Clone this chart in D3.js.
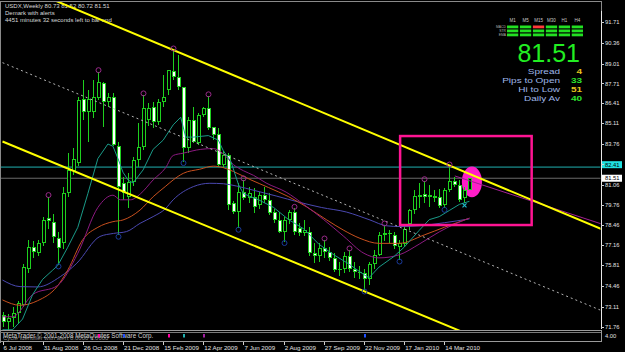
<!DOCTYPE html>
<html lang="en">
<head>
<meta charset="UTF-8">
<title>USDX Weekly</title>
<script src="https://d3js.org/d3.v7.min.js"></script>
<style>
  html, body { margin: 0; padding: 0; background: #000; }
  svg { display: block; }
  text { font-family: "Liberation Sans", Arial, sans-serif; }
</style>
</head>
<body>
<svg width="625" height="352"></svg>
<script>
// weekly bars, bar 0 = 6 Jul 2008
const opens = [72.57,72.13,72.40,72.70,73.20,75.60,77.04,76.60,77.25,78.90,78.67,77.58,77.25,80.52,82.00,82.50,86.67,85.86,85.86,86.74,
  87.72,86.52,86.85,83.60,81.20,80.31,81.29,82.70,83.58,85.30,86.20,85.20,86.50,87.28,88.52,88.15,87.50,83.47,85.32,83.80,
  85.65,86.08,84.84,84.40,82.38,83.03,79.87,79.32,80.63,80.20,80.31,79.76,80.41,80.09,79.32,78.78,78.02,78.78,79.32,78.24,
  77.95,78.02,76.60,76.40,76.95,76.70,76.30,75.50,75.60,76.40,75.60,75.40,75.30,74.90,75.90,76.50,77.80,77.90,77.80,77.00,
  77.20,78.50,79.43,80.30,80.50,80.30,80.35,80.30,79.76,80.74,81.35,81.07,80.20,80.73];
const highs = [72.79,72.60,73.10,73.45,75.90,77.50,77.40,77.50,79.00,80.31,79.20,78.00,80.95,83.14,83.50,86.85,87.94,87.28,87.94,88.48,
  87.83,87.06,87.06,83.90,81.60,81.83,82.90,85.10,86.96,86.40,86.50,86.70,88.26,88.60,89.90,89.60,87.50,85.54,86.19,85.76,
  86.19,86.90,84.89,84.78,83.30,83.14,80.00,81.20,81.40,80.96,80.85,80.60,80.96,80.52,79.50,79.30,79.00,79.40,79.54,78.60,
  78.78,78.30,77.25,77.30,77.47,77.00,76.60,76.00,76.70,76.82,76.00,75.80,75.60,76.00,76.80,78.00,78.45,78.10,78.00,77.50,
  78.50,79.50,80.74,81.18,81.35,81.07,80.74,80.80,80.85,82.31,81.60,81.40,80.96,81.52];
const lows = [71.76,71.50,71.75,72.00,73.10,75.30,76.30,76.40,77.10,78.20,77.30,75.84,76.90,80.31,81.70,82.30,85.33,83.90,85.43,86.63,
  84.89,86.19,83.60,77.78,80.10,79.55,81.00,82.27,83.36,84.90,84.80,85.00,86.20,86.96,87.94,87.28,82.60,83.14,83.80,83.70,
  85.54,84.67,84.00,82.27,82.20,79.43,79.20,78.24,80.09,79.87,79.22,79.50,79.87,79.10,78.60,77.90,77.37,78.50,77.80,77.70,
  77.70,76.40,75.95,76.00,76.30,76.10,75.40,75.10,75.30,75.40,75.00,74.90,74.20,74.50,75.60,76.40,77.40,77.30,76.90,76.16,
  77.00,78.13,79.20,79.54,79.90,79.65,79.98,79.55,79.54,80.63,80.96,79.98,79.87,80.72];
const closes = [72.13,72.40,72.70,73.33,75.73,77.00,76.71,77.25,78.78,78.70,77.69,76.93,80.52,82.05,82.80,86.63,85.86,86.70,86.85,87.83,
  86.52,86.85,83.70,80.96,80.52,81.29,82.70,83.58,86.08,86.10,85.20,86.50,86.85,88.59,88.15,87.50,83.47,85.32,83.90,85.65,
  86.08,84.78,84.34,82.38,83.03,79.76,79.32,80.63,80.20,80.52,79.65,80.41,80.09,79.22,78.78,78.02,78.78,79.32,78.00,77.95,
  78.10,76.60,76.40,76.95,76.70,76.30,75.50,75.60,76.40,75.60,75.40,75.30,74.90,75.90,76.50,77.80,77.90,77.85,77.10,77.30,
  78.20,79.45,80.35,80.40,80.30,80.40,80.20,79.70,80.74,81.35,81.07,80.09,80.75,81.51];

const dateBars = [0, 8, 16, 24, 32, 40, 48, 56, 64, 72, 80, 88];
const dateLabels = ["6 Jul 2008","31 Aug 2008","26 Oct 2008","21 Dec 2008","15 Feb 2009","12 Apr 2009",
  "7 Jun 2009","2 Aug 2009","27 Sep 2009","22 Nov 2009","17 Jan 2010","14 Mar 2010"];
const priceTicks = ["91.71","90.36","89.01","87.71","86.41","85.11","83.76","82.41","81.06",
  "79.76","78.46","77.16","75.81","74.46","73.11","71.76"];

// moving averages: [bar, price]
const maTeal = [[0,71.6],[2,71.6],[4,72.3],[6,73.9],[8,74.9],[10,75.5],[11,75.8],[13,77.0],[15,78.3],[17,80.5],
  [19,82.8],[21,83.75],[22,83.6],[23,82.8],[24,81.9],[25,81.4],[26,81.2],[28,82.05],[30,83.4],[32,84.0],[34,85.0],
  [35.5,85.5],[36.5,84.2],[38,84.2],[41,84.3],[43,84.0],[44,83.3],[45.5,82.6],[47,81.1],[48,80.5],[51,80.1],
  [54,79.6],[57,78.8],[60,78.2],[63,77.2],[66,76.5],[69,75.9],[72,75.2],[73,75.0],[75,75.7],[78,76.4],[80,77.0],
  [83,78.1],[85,78.8],[87,79.0],[89,79.4],[91,79.8],[93,80.0]];
const maPurple = [[0,72.45],[2,72.45],[6,73.9],[11,74.5],[15,76.6],[19,79.6],[22,80.4],[23.5,80.1],[25.5,80.1],
  [27.5,80.5],[30,81.4],[32.5,82.2],[34,83.0],[36,83.15],[39.5,83.4],[42,83.45],[44,83.1],[46,82.4],[48,82.0],
  [50,81.7],[52.5,81.2],[56.5,80.6],[60,79.8],[64,78.8],[68,77.7],[72,76.6],[75,76.3],[79,76.5],[83,77.2],
  [87,78.0],[90,78.5],[93,78.9]];
const maOrange = [[0,73.55],[3.5,73.2],[7,73.5],[10.8,74.4],[13,75.5],[16,77.5],[19,78.3],[22,78.67],[24,78.78],
  [27.4,79.43],[30,80.3],[32.4,80.96],[34,81.4],[36,81.83],[39.3,82.1],[42,82.3],[44,82.2],[46,81.95],[49.5,81.4],
  [53,80.9],[57,80.3],[60.5,79.65],[64.5,78.8],[68,78.1],[71.2,77.58],[75,77.25],[79,77.25],[84,77.8],[88,78.3],[93,78.9]];
const maSlate = [[0,74.85],[3.5,74.42],[7,74.4],[11.5,75.07],[14.8,75.95],[19.4,77.7],[22.1,77.9],[24.7,78.02],
  [27.4,78.56],[30,79.0],[32.4,79.5],[34,80.1],[38,80.96],[41.3,81.18],[44,81.15],[46.6,81.0],[50.3,80.7],
  [54.5,80.35],[59,79.95],[63.5,79.6],[68.5,79.3],[73.2,78.78],[76.5,78.4],[79.2,78.35],[83,78.4],[88,78.6],[93,78.85]];

// chart objects: [bar, price] end points
const channelUpper = [[0,94.57],[120,78.09]];
const channelLower = [[0,83.91],[120,67.60]];
const channelMid = [[0,89.07],[120,72.76]];
const pinkLine = [[90.1,81.66],[119.5,78.50]];
const boxCorners = [[79.2,84.27],[105.4,78.45]];
const ellipseCenter = [93.5,81.27];
const levelLine = 82.24;
const levelTick = "82.41";
const bidPrice = 81.51;

const topMarkBars = [9,19,28,34,41,48,58,64,69,76,84,89];
const bottomMarkBars = [11,23,36,47,56,72,79,88];
const crossBar = 92;
const signalBars = [19,24,33,36,40,72];
const signalColors = ["#ff00a0","#2050ff","#ff00a0","#20b0b0","#a020a0","#2050ff"];

const panelCols = ["M1","M5","M15","M30","H1","H4"];
const panelRows = ["MACD","STR","EMA"];
const panelRed = [[0,2]];
const statLabels = ["Spread","Pips to Open","Hi to Low","Daily Av"];
const statValues = ["4","33","51","40"];
const statColors = ["#e6c41c","#2ee02e","#e6c41c","#2ee02e"];

const headerLines = ["USDX,Weekly  80.73 81.52 80.72 81.51","Demark with alerts","4451 minutes 32 seconds left to bar end"];

const svg = d3.select("svg");
svg.append("rect").attr("width", 625).attr("height", 352).attr("fill", "#000");

const x = d3.scaleLinear().domain([0, 88]).range([2.5, 444.3]);
const y = d3.scaleLinear().domain([71.76, 91.71]).range([327.3, 22.3]);
const green = "#1ed01e";

// header
svg.append("g").selectAll("text").data(headerLines).join("text")
  .attr("x", 5).attr("y", (d, i) => 8 + i * 7)
  .attr("font-size", 6).attr("fill", "#d8d8d8").text(d => d);

svg.append("clipPath").attr("id", "main").append("rect")
  .attr("x", 1).attr("y", 1.5).attr("width", 599.5).attr("height", 328.5);
const plot = svg.append("g").attr("clip-path", "url(#main)");

// horizontal levels
plot.append("line").attr("x1", 0).attr("x2", 601).attr("y1", y(bidPrice)).attr("y2", y(bidPrice))
  .attr("stroke", "#6a6a6a");
plot.append("line").attr("x1", 0).attr("x2", 601).attr("y1", y(levelLine)).attr("y2", y(levelLine))
  .attr("stroke", "#1fb0b0");

// ellipse
plot.append("ellipse")
  .attr("cx", x(ellipseCenter[0])).attr("cy", y(ellipseCenter[1]))
  .attr("rx", x(ellipseCenter[0] + 2) - x(ellipseCenter[0]))
  .attr("ry", y(ellipseCenter[1] - 1) - y(ellipseCenter[1]))
  .attr("fill", "#ff1ec8");

// candles
const cg = plot.append("g").attr("shape-rendering", "crispEdges");
d3.range(opens.length).forEach(i => {
  const cx = Math.round(x(i));
  const top = y(highs[i]), bot = y(lows[i]);
  cg.append("rect").attr("x", cx).attr("y", top).attr("width", 1).attr("height", bot - top).attr("fill", green);
  const bt = y(Math.max(opens[i], closes[i])), bb = y(Math.min(opens[i], closes[i]));
  const bh = Math.max(1, bb - bt);
  cg.append("rect").attr("x", cx - 1).attr("y", bt).attr("width", 4).attr("height", bh).attr("fill", green);
  if (bh > 2) {
    cg.append("rect").attr("x", cx).attr("y", bt + 1).attr("width", 2).attr("height", bh - 2)
      .attr("fill", closes[i] >= opens[i] ? "#000" : "#fff");
  }
});

// moving averages
const smooth = d3.line().x(d => x(d[0])).y(d => y(d[1])).curve(d3.curveMonotoneX);
const straight = d3.line().x(d => x(d[0])).y(d => y(d[1]));
plot.append("path").attr("d", smooth(maSlate)).attr("fill", "none").attr("stroke", "#4a48b0");
plot.append("path").attr("d", smooth(maOrange)).attr("fill", "none").attr("stroke", "#c8501e");
plot.append("path").attr("d", smooth(maPurple)).attr("fill", "none").attr("stroke", "#8c1a80");
plot.append("path").attr("d", straight(maTeal)).attr("fill", "none").attr("stroke", "#1a9a88");

// channel
plot.append("path").attr("d", straight(channelMid)).attr("fill", "none")
  .attr("stroke", "#b4b4b4").attr("stroke-dasharray", "2,3");
plot.append("path").attr("d", straight(pinkLine)).attr("fill", "none").attr("stroke", "#a02090");
[channelUpper, channelLower].forEach(c => {
  plot.append("path").attr("d", straight(c)).attr("fill", "none")
    .attr("stroke", "#ffff00").attr("stroke-width", 2);
});

// box
plot.append("rect")
  .attr("x", x(boxCorners[0][0])).attr("y", y(boxCorners[0][1]))
  .attr("width", x(boxCorners[1][0]) - x(boxCorners[0][0]))
  .attr("height", y(boxCorners[1][1]) - y(boxCorners[0][1]))
  .attr("fill", "none").attr("stroke", "#ff1493").attr("stroke-width", 2.5);

// demark points
plot.append("g").selectAll("circle").data(topMarkBars).join("circle")
  .attr("cx", i => Math.round(x(i)) + 0.5).attr("cy", i => y(highs[i]) - 1.5).attr("r", 2.5)
  .attr("fill", "none").attr("stroke", "#9a2a8a");
plot.append("g").selectAll("circle").data(bottomMarkBars).join("circle")
  .attr("cx", i => Math.round(x(i)) + 0.5).attr("cy", i => y(lows[i]) + 1.5).attr("r", 2.5)
  .attr("fill", "none").attr("stroke", "#1a3a9a");
const xc = Math.round(x(crossBar)) + 0.5, yc = y(lows[crossBar]) + 2;
plot.append("path").attr("d", `M${xc-2},${yc-2}L${xc+2},${yc+2}M${xc+2},${yc-2}L${xc-2},${yc+2}`)
  .attr("stroke", "#20b8c8").attr("stroke-width", 1.2);

// frames
const frame = svg.append("g").attr("fill", "none").attr("shape-rendering", "crispEdges");
frame.append("path").attr("d", "M0.5,342.5V1.5H601.5V11").attr("stroke", "#8a8a8a");
frame.append("line").attr("x1", 601.5).attr("x2", 601.5).attr("y1", 11).attr("y2", 329).attr("stroke", "#e8e8e8").attr("stroke-width", 1.5);
frame.append("line").attr("x1", 0).attr("x2", 602).attr("y1", 330.5).attr("y2", 330.5).attr("stroke", "#9a9a9a");
frame.append("line").attr("x1", 0).attr("x2", 602).attr("y1", 332.5).attr("y2", 332.5).attr("stroke", "#7a7a7a");
frame.append("line").attr("x1", 601.5).attr("x2", 601.5).attr("y1", 330).attr("y2", 342).attr("stroke", "#9a9a9a");
frame.append("line").attr("x1", 0).attr("x2", 602).attr("y1", 341.5).attr("y2", 341.5).attr("stroke", "#9a9a9a");

// price axis
const pa = svg.append("g");
pa.append("rect").attr("x", 602).attr("y", y(+levelTick) - 3.3).attr("width", 20).attr("height", 7).attr("fill", "#20e0e0");
pa.append("rect").attr("x", 602).attr("y", y(bidPrice) - 3.5).attr("width", 20).attr("height", 7).attr("fill", "#fff");
pa.selectAll("line").data(priceTicks).join("line")
  .attr("x1", 601).attr("x2", 604).attr("y1", d => Math.round(y(+d)) + 0.5).attr("y2", d => Math.round(y(+d)) + 0.5)
  .attr("stroke", "#d0d0d0");
pa.selectAll("text.tick").data(priceTicks).join("text").attr("class", "tick")
  .attr("x", 605).attr("y", d => y(+d) + 2.1)
  .attr("font-size", 5.8).attr("fill", d => d === levelTick ? "#000" : "#e0e0e0").text(d => d);
pa.append("text").attr("x", 605).attr("y", y(bidPrice) + 2.1).attr("font-size", 5.8).attr("fill", "#000").text(bidPrice.toFixed(2));
pa.append("text").attr("x", 605).attr("y", 337.5).attr("font-size", 5.8).attr("fill", "#e0e0e0").text("4.00");

// indicator sub-window
svg.append("text").attr("x", 3).attr("y", 339.5).attr("font-size", 6).attr("fill", "#8a8a8a")
  .text("Cycle Identifier with alert  0.0000  0.0000");
svg.append("text").attr("x", 3).attr("y", 338).attr("font-size", 6.3).attr("fill", "#d0d0d0")
  .text("MetaTrader \u00a9 2001-2008 MetaQuotes Software Corp.");
svg.append("g").selectAll("rect").data(signalBars).join("rect")
  .attr("x", i => Math.round(x(i))).attr("y", 334).attr("width", 2).attr("height", 3.5)
  .attr("fill", (d, k) => signalColors[k]);

// time axis
const ta = svg.append("g");
ta.selectAll("line").data(dateBars).join("line")
  .attr("x1", i => Math.round(x(i)) + 0.5).attr("x2", i => Math.round(x(i)) + 0.5)
  .attr("y1", 342).attr("y2", 345).attr("stroke", "#d0d0d0");
ta.selectAll("text").data(dateBars).join("text")
  .attr("x", i => x(i) + 1).attr("y", 349.5)
  .attr("font-size", 6.2).attr("fill", "#e0e0e0").text((d, k) => dateLabels[k]);

// signal panel top right
const panel = svg.append("g");
const colX = d3.scaleBand().domain(panelCols).range([507, 583]).paddingInner(0.13);
panel.selectAll("text.col").data(panelCols).join("text").attr("class", "col")
  .attr("x", d => colX(d) + colX.bandwidth() / 2).attr("y", 22).attr("text-anchor", "middle")
  .attr("font-size", 4.5).attr("fill", "#c8c8c8").text(d => d);
panelRows.forEach((r, ri) => {
  panel.append("text").attr("x", 506).attr("y", 28.3 + ri * 4).attr("text-anchor", "end")
    .attr("font-size", 3.4).attr("fill", "#b0b0b0").text(r);
  panelCols.forEach((c, ci) => {
    const red = panelRed.some(p => p[0] === ri && p[1] === ci);
    panel.append("rect").attr("x", colX(c)).attr("y", 25.5 + ri * 4)
      .attr("width", colX.bandwidth()).attr("height", 2.8)
      .attr("fill", red ? "#ff3a3a" : "#22e022");
  });
});
panel.append("text").attr("x", 580).attr("y", 61.5).attr("text-anchor", "end")
  .attr("font-size", 25).attr("fill", "#22ee22").text(bidPrice.toFixed(2));
// stats: measured at 10px, drawn at 8px and stretched back to that width so rows do not collide
statLabels.forEach((s, k) => {
  const lab = panel.append("text").attr("x", 560).attr("y", 73.5 + k * 9.2).attr("text-anchor", "end")
    .attr("font-size", 10).attr("fill", "#9fb6e8").text(s);
  const w = lab.node().getComputedTextLength();
  lab.attr("font-size", 8).attr("textLength", w).attr("lengthAdjust", "spacingAndGlyphs");
  const val = panel.append("text").attr("x", 582).attr("y", 73.5 + k * 9.2).attr("text-anchor", "end")
    .attr("font-size", 10).attr("font-weight", "bold").attr("fill", statColors[k]).text(statValues[k]);
  const vw = val.node().getComputedTextLength();
  val.attr("font-size", 8).attr("textLength", vw).attr("lengthAdjust", "spacingAndGlyphs");
});
</script>
</body>
</html>
